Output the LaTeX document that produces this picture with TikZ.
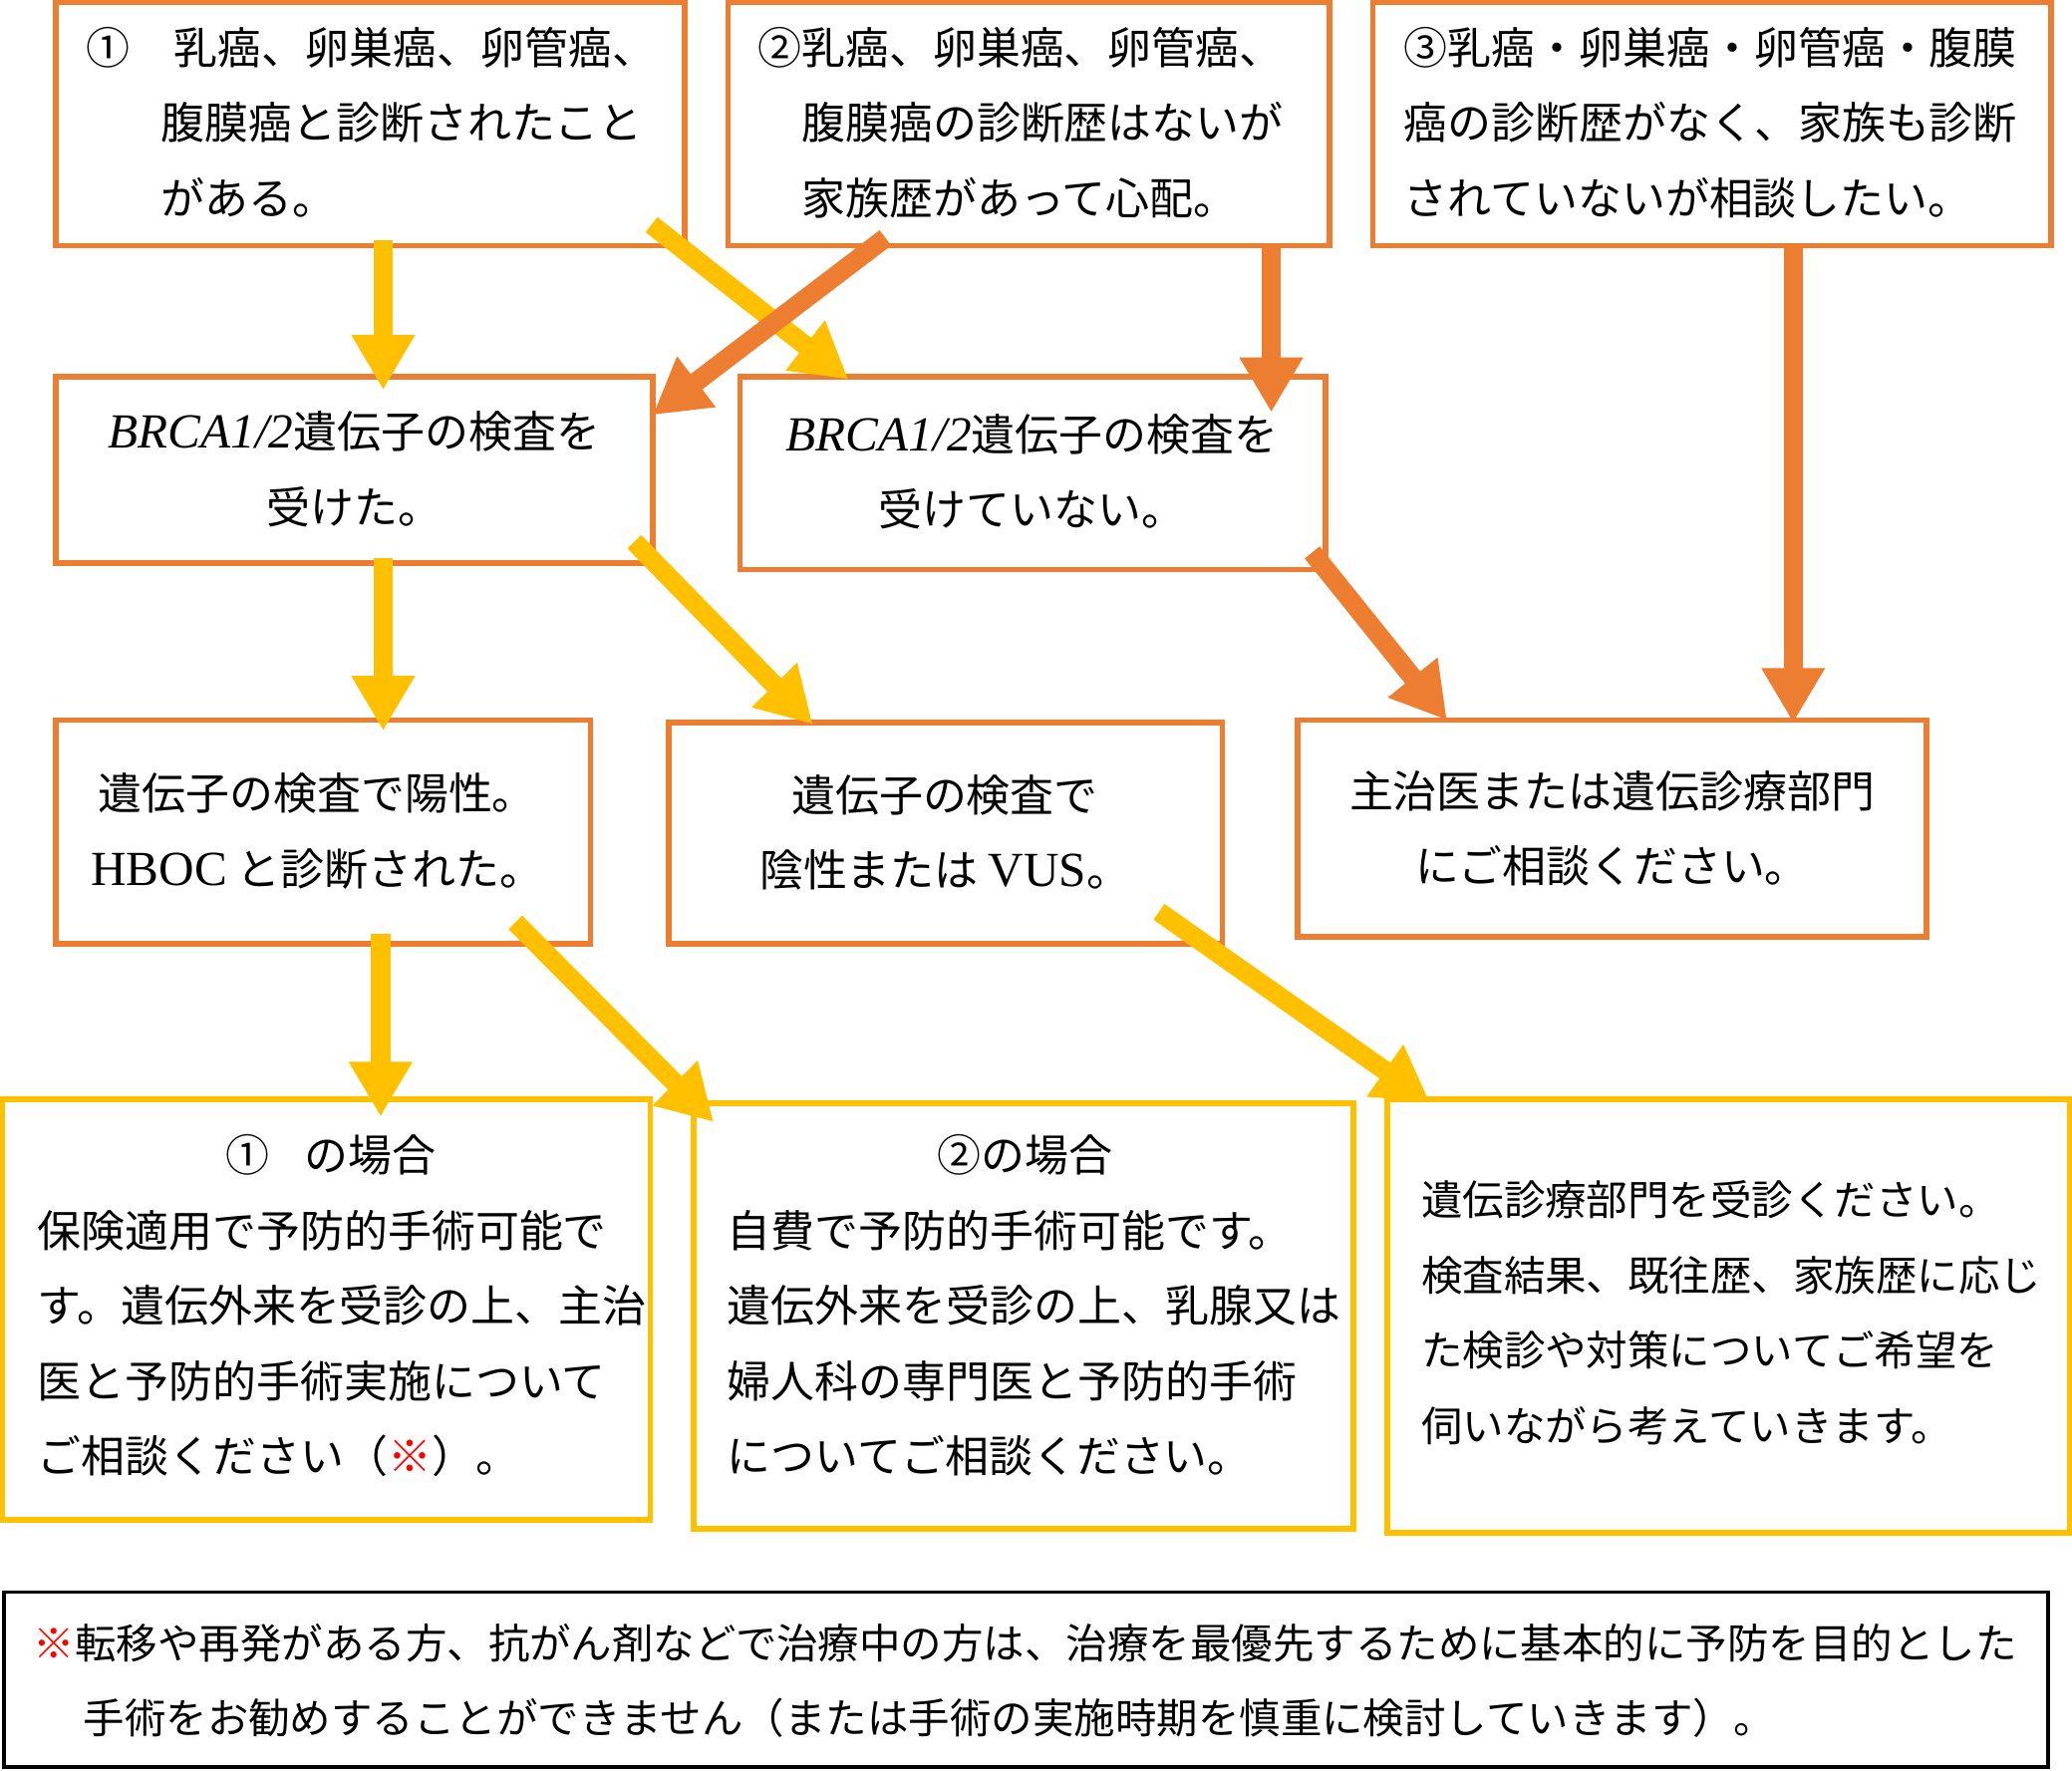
\documentclass[tikz,border=0pt]{standalone}
\usepackage{fontspec}
\setmainfont{Noto Sans CJK JP}
\newfontfamily\lat{Liberation Serif}
\usetikzlibrary{arrows.meta}
\definecolor{orng}{HTML}{ED7D31}
\definecolor{yllw}{HTML}{FFC000}
\newcommand{\gene}{{\lat\itshape\fontsize{14pt}{20pt}\selectfont BRCA1/2}}
\begin{document}
\begin{tikzpicture}[x=0.013259cm, y=-0.013259cm,
        % 共通スタイル
        box/.style={draw=orng, line width=1.6pt, inner sep=0pt},
        ybox/.style={draw=yllw, line width=1.6pt, inner sep=0pt},
        txt/.style={font=\fontsize{12.5pt}{21.5pt}\selectfont, inner sep=0pt},
        stxt/.style={font=\fontsize{11.8pt}{21.5pt}\selectfont, inner sep=0pt},
        yarrow/.style={yllw, line width=5.5pt, -{Triangle[length=0.55cm,width=0.6cm]}},
        oarrow/.style={orng, line width=5.5pt, -{Triangle[length=0.55cm,width=0.6cm]}}
    ]
    \useasboundingbox (0,0) rectangle (1568,1340);

    % --- 1段目 ---
    \draw[box] (42,2) rectangle (518,186);
    \node[txt, anchor=north west, align=left] (a1) at (65,20) {①\hspace{1em}乳癌、卵巣癌、卵管癌、\\\hspace{1.7em}腹膜癌と診断されたこと\\\hspace{1.7em}がある。};
    \draw[box] (551,2) rectangle (1006,186);
    \node[txt, anchor=north west, align=left] (a2) at (573,20) {②乳癌、卵巣癌、卵管癌、\\\hspace{1em}腹膜癌の診断歴はないが\\\hspace{1em}家族歴があって心配。};
    \draw[box] (1039,2) rectangle (1552,186);
    \node[txt, anchor=north west, align=left] (a3) at (1062,20) {③乳癌・卵巣癌・卵管癌・腹膜\\癌の診断歴がなく、家族も診断\\されていないが相談したい。};

    % --- 2段目 ---
    \draw[box] (42,285) rectangle (494,426);
    \node[txt, align=center] (b1) at (268,355) {\gene 遺伝子の検査を\\受けた。};
    \draw[box] (560,285) rectangle (1003,431);
    \node[txt, align=center] (b2) at (781,357) {\gene 遺伝子の検査を\\受けていない。};

    % --- 3段目 ---
    \draw[box] (42,545) rectangle (447,714);
    \node[txt, align=center] (c1) at (240,629) {遺伝子の検査で陽性。\\{\lat\fontsize{14pt}{20pt}\selectfont HBOC} と診断された。};
    \draw[box] (506,547) rectangle (925,714);
    \node[txt, align=center] (c2) at (715,630) {遺伝子の検査で\\陰性または {\lat\fontsize{14pt}{20pt}\selectfont VUS}。};
    \draw[box] (982,545) rectangle (1458,709);
    \node[txt, align=center] (c3) at (1220,627) {主治医または遺伝診療部門\\にご相談ください。};

    % --- 4段目 ---
    \draw[ybox] (2,832) rectangle (492,1150);
    \node[txt, anchor=north west, align=left] (d1) at (28,858) {\hspace{4.3em}①\hspace{0.8em}の場合\\保険適用で予防的手術可能で\\す。遺伝外来を受診の上、主治\\医と予防的手術実施について\\ご相談ください（\textcolor{red}{※}）。};
    \draw[ybox] (525,835) rectangle (1024,1157);
    \node[txt, anchor=north west, align=left] (d2) at (550,858) {\hspace{4.8em}②の場合\\自費で予防的手術可能です。\\遺伝外来を受診の上、乳腺又は\\婦人科の専門医と予防的手術\\についてご相談ください。};
    \draw[ybox] (1050,832) rectangle (1566,1160);
    \node[stxt, anchor=north west, align=left] (d3) at (1075,893) {遺伝診療部門を受診ください。\\検査結果、既往歴、家族歴に応じ\\た検診や対策についてご希望を\\伺いながら考えていきます。};

    % --- 注記 ---
    \draw[black, line width=1pt] (3,1205) rectangle (1550,1337);
    \node[stxt, anchor=north west, align=left] (note) at (25,1228) {\textcolor{red}{※}転移や再発がある方、抗がん剤などで治療中の方は、治療を最優先するために基本的に予防を目的とした\\\hspace{1.2em}手術をお勧めすることができません（または手術の実施時期を慎重に検討していきます）。};

    % --- 矢印 ---
    \draw[yarrow] (290,182) -- (290,295);
    \draw[yarrow] (493,170) -- (642,287);
    \draw[oarrow] (670,180) -- (494,314);
    \draw[oarrow] (962,188) -- (962,312);
    \draw[oarrow] (1357,186) -- (1357,547);
    \draw[yarrow] (290,422) -- (290,553);
    \draw[yarrow] (480,410) -- (615,548);
    \draw[oarrow] (993,418) -- (1095,545);
    \draw[yarrow] (288,707) -- (288,845);
    \draw[yarrow] (390,698) -- (540,849);
    \draw[yarrow] (877,690) -- (1082,834);
\end{tikzpicture}
\end{document}
